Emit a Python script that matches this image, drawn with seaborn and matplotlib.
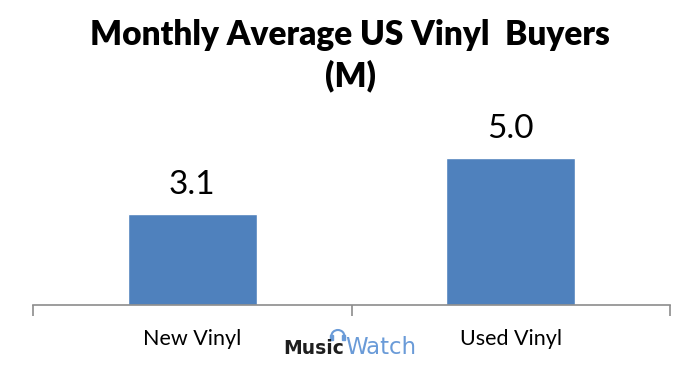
import matplotlib
matplotlib.use("Agg")
import matplotlib.pyplot as plt
import seaborn as sns
import pandas as pd
from matplotlib.ticker import FixedLocator
from matplotlib.patches import Arc, Rectangle

categories = ["New Vinyl", "Used Vinyl"]
values = [3.1, 5.0]
value_labels = ["3.1", "5.0"]
title_line1 = "Monthly Average US Vinyl  Buyers"
title_line2 = "(M)"

sns.set_style("white")
plt.rcParams["font.family"] = ["Lato", "DejaVu Sans"]

df = pd.DataFrame({"cat": categories, "val": values})

W, H = 700, 372
fig = plt.figure(figsize=(7, 3.72), dpi=100)
ax_left, ax_right, ax_bottom, ax_top = 33, 670, 305, 110
ax = fig.add_axes([ax_left / W, (H - ax_bottom) / H, (ax_right - ax_left) / W, (ax_bottom - ax_top) / H])
sns.barplot(data=df, x="cat", y="val", color="#4F81BD", saturation=1, width=0.405, ax=ax)

ax.set_xlim(-0.5, 1.5)
ax.set_ylim(0, 195 / 29.4)
for i, (v, lab) in enumerate(zip(values, value_labels)):
    ax.text(i, v + 0.68, lab, ha="center", va="baseline", fontsize=24, color="black")

for s in ["top", "right", "left"]:
    ax.spines[s].set_visible(False)
ax.spines["bottom"].set_color("#8c8c8c")
ax.spines["bottom"].set_linewidth(1.2)
ax.set_yticks([])
ax.set_xlabel("")
ax.set_ylabel("")
ax.tick_params(axis="x", which="major", length=0, labelsize=15.5, pad=17, labelcolor="black")
ax.xaxis.set_minor_locator(FixedLocator([-0.5, 0.5, 1.5]))
ax.tick_params(axis="x", which="minor", bottom=True, length=8, width=1.2, color="#8c8c8c", direction="out")

fig.text(0.5, 1 - 45 / H, title_line1, ha="center", va="baseline", fontsize=24, fontweight="heavy", color="black")
fig.text(0.5, 1 - 86 / H, title_line2, ha="center", va="baseline", fontsize=24, fontweight="heavy", color="black")

# MusicWatch logo
music = fig.text(283 / W, 1 - 354 / H, "Music", ha="left", va="baseline", fontsize=13.5, fontweight="bold",
                 color="#1e1e1e", fontfamily="DejaVu Sans")
fig.canvas.draw()
bb = music.get_window_extent(renderer=fig.canvas.get_renderer())
mx1 = bb.x1
fig.text((mx1 + 1) / W, 1 - 354 / H, "Watch", ha="left", va="baseline", fontsize=16.5, color="#6a9bd8", fontfamily="DejaVu Sans")
cx = mx1 - 6
fig.add_artist(Arc((cx / W, 1 - 336 / H), 13 / W, 12 / H, theta1=0, theta2=180, color="#6a9bd8", lw=1.5, transform=fig.transFigure))
fig.add_artist(Rectangle(((cx - 7.5) / W, 1 - 340 / H), 3 / W, 5 / H, color="#6a9bd8", transform=fig.transFigure))
fig.add_artist(Rectangle(((cx + 4.5) / W, 1 - 340 / H), 3 / W, 5 / H, color="#6a9bd8", transform=fig.transFigure))

fig.savefig("out.png", dpi=100)
